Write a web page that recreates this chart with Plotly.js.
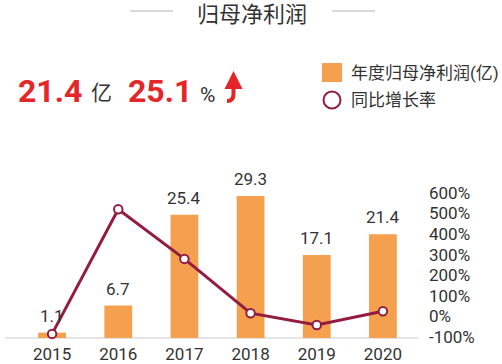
<!DOCTYPE html>
<html>
<head>
<meta charset="utf-8">
<script src="https://cdn.plot.ly/plotly-3.0.1.min.js"></script>
<style>html,body{margin:0;padding:0;background:#fff;}#chart{width:502px;height:364px;}</style>
</head>
<body>
<div id="chart"></div>
<script>
// Data
const years = ['2015', '2016', '2017', '2018', '2019', '2020'];
const netProfit = [1.1, 6.7, 25.4, 29.3, 17.1, 21.4];      // 亿
const growthRate = [-85, 520, 279, 15.4, -41.6, 25.1];     // %
const rightTickVals = [-100, 0, 100, 200, 300, 400, 500, 600];
const rightTickText = ['-100%', '0%', '100%', '200%', '300%', '400%', '500%', '600%'];

const W = 502, H = 364;
const M = {l: 19, r: 86, t: 150, b: 26};
const PW = W - M.l - M.r, PH = H - M.t - M.b;
const px = v => (v - M.l) / PW;
const py = v => (H - M.b - v) / PH;

const FONT = "Roboto, 'Noto Sans CJK SC', sans-serif";
const TXT = '#333333';
const RED = '#E42628';
const ORANGE = '#F5A04E';
const WINE = '#931C40';

const bars = {
  type: 'bar', x: years, y: netProfit, width: 0.42,
  marker: {color: ORANGE},
  hoverinfo: 'none', showlegend: false
};
const line = {
  type: 'scatter', mode: 'lines+markers', x: years, y: growthRate, yaxis: 'y2',
  line: {color: WINE, width: 3},
  marker: {size: 8.5, color: '#ffffff', line: {color: WINE, width: 2}},
  cliponaxis: false, hoverinfo: 'none', showlegend: false
};

const ann = (text, x, y, size, color, opts) => Object.assign({
  text, x: px(x), y: py(y), xref: 'paper', yref: 'paper', showarrow: false,
  xanchor: 'left', yanchor: 'middle', font: {family: FONT, size, color}
}, opts || {});

// value labels above the bars, placed in data coordinates (category index, value)
const barLabels = years.map((yr, i) => ({
  x: i, y: netProfit[i], xref: 'x', yref: 'y', text: netProfit[i].toFixed(1),
  showarrow: false, xanchor: 'center', yanchor: 'bottom', yshift: 5,
  font: {family: FONT, size: 17, color: TXT}
}));

const layout = {
  width: W, height: H, margin: M,
  paper_bgcolor: '#ffffff', plot_bgcolor: '#ffffff',
  showlegend: false,
  xaxis: {type: 'category', range: [-0.5, years.length - 0.5], autorange: false,
          showgrid: false, zeroline: false, showline: false,
          ticks: '', ticklabelstandoff: 4,
          tickfont: {family: FONT, size: 17, color: TXT}},
  yaxis: {range: [0, PH / 4.85], visible: false, showgrid: false, zeroline: false},
  yaxis2: {overlaying: 'y', side: 'right', range: [-104.9, -104.9 + PH / 0.2061],
           tickvals: rightTickVals, ticktext: rightTickText, showgrid: false,
           zeroline: false, showline: false, ticks: '', ticklabelstandoff: 12,
           tickfont: {family: FONT, size: 17, color: TXT}},
  shapes: [
    {type: 'line', xref: 'paper', yref: 'paper', x0: px(5), x1: px(418), y0: py(338), y1: py(338),
     line: {color: '#dddddd', width: 1.5}, layer: 'below'},
    {type: 'line', xref: 'paper', yref: 'paper', x0: px(130), x1: px(173), y0: py(11), y1: py(11),
     line: {color: '#cccccc', width: 1.5}},
    {type: 'line', xref: 'paper', yref: 'paper', x0: px(332), x1: px(375), y0: py(11), y1: py(11),
     line: {color: '#cccccc', width: 1.5}},
    {type: 'rect', xref: 'paper', yref: 'paper', x0: px(322), x1: px(342), y0: py(82), y1: py(63),
     fillcolor: ORANGE, line: {width: 0}},
    {type: 'circle', xref: 'paper', yref: 'paper', x0: px(323.5), x1: px(340.5), y0: py(108.5), y1: py(91.5),
     fillcolor: '#ffffff', line: {color: WINE, width: 2}},
    {type: 'path', xref: 'paper', yref: 'paper',
     path: 'M' + px(233.5) + ',' + py(78) + ' L' + px(233.5) + ',' + py(94) +
           ' Q' + px(233.5) + ',' + py(101) + ' ' + px(227) + ',' + py(101),
     line: {color: RED, width: 4}}
  ],
  annotations: barLabels.concat([
    ann('归母净利润', 252, 14, 22, TXT, {xanchor: 'center'}),
    ann('<b>21.4</b>', 16, 91, 32, RED),
    ann('亿', 89, 93, 21, TXT),
    ann('<b>25.1</b>', 126, 91, 32, RED),
    ann('%', 198, 95, 21, TXT),
    {x: px(233.5), y: py(71), ax: px(233.5), ay: py(86), xref: 'paper', yref: 'paper',
     axref: 'paper', ayref: 'paper', text: '', showarrow: true, arrowhead: 2,
     arrowsize: 0.9, arrowwidth: 4, arrowcolor: RED},
    ann('年度归母净利润(亿)', 349, 73, 17, TXT),
    ann('同比增长率', 349, 100, 17, TXT)
  ])
};

Plotly.newPlot('chart', [bars, line], layout, {displayModeBar: false, staticPlot: true});
</script>
</body>
</html>
